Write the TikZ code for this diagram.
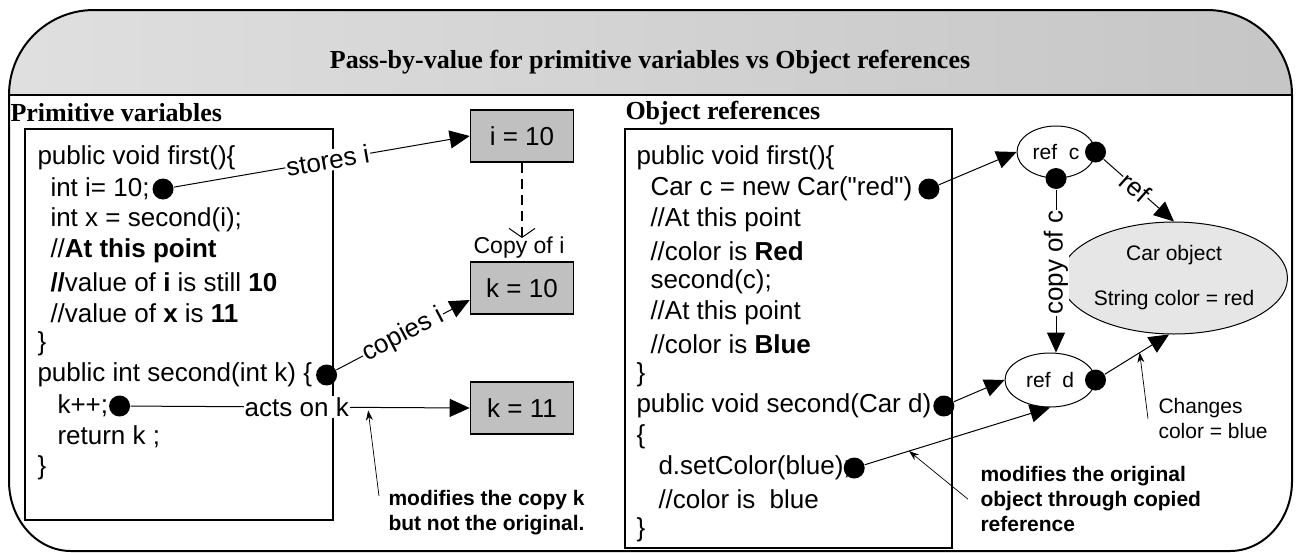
\documentclass[tikz,border=0pt]{standalone}
\usepackage{fontspec}
\setmainfont{Liberation Serif}
\setsansfont{Liberation Sans}
\usetikzlibrary{arrows.meta,positioning,calc,shapes.geometric}
\definecolor{boxgray}{HTML}{C0C0C0}
\definecolor{objgray}{HTML}{E6E6E6}
% straight double quote, not mapped to a curly one
\newcommand\dquote{\XeTeXglyph\XeTeXcharglyph"22\relax}
\tikzset{
	% ------- every something
	every picture/.style={
		x=1pt, y=-1pt,
	},
	every path/.style={
		line width=1pt,
	},
	% ------- custom
	frame/.style={
		line width=2pt,
	},
	title/.style={
		font=\bfseries\fontsize{26}{30}\selectfont,
	},
	heading/.style={
		font=\bfseries\fontsize{26}{30}\selectfont,
		anchor=west, inner sep=0pt,
	},
	codebox/.style={
		line width=1.6pt,
	},
	code/.style={
		font=\sffamily\fontsize{26}{31}\selectfont,
		anchor=west, inner sep=0pt,
	},
	valuebox/.style={
		draw, line width=1.6pt, fill=boxgray,
		minimum width=103pt, minimum height=52pt,
		font=\sffamily\fontsize{26}{31}\selectfont,
	},
	refnode/.style={
		draw, ellipse, fill=white, inner sep=0pt,
		font=\sffamily\fontsize{21}{25}\selectfont,
	},
	dot/.style={
		fill=black, circle, inner sep=0pt, minimum size=21pt,
	},
	link/.style={
		-{Triangle[length=20pt, width=18pt]},
	},
	copylink/.style={
		dashed, dash pattern=on 10pt off 6pt, line width=1.2pt,
		-{Straight Barb[length=9pt, width=26pt, line width=1pt]},
	},
	tag/.style={
		font=\sffamily\fontsize{26}{31}\selectfont,
		fill=white, inner sep=1pt,
	},
	note/.style={
		line width=0.7pt,
		-{Stealth[length=10pt, width=7pt]},
	},
	notetext/.style={
		font=\sffamily\bfseries\fontsize{21}{25}\selectfont,
		align=left, anchor=north west, inner sep=0pt,
	},
	smalltext/.style={
		font=\sffamily\fontsize{21}{25}\selectfont,
		align=left, inner sep=0pt,
	},
}

\begin{document}
\begin{tikzpicture}

\useasboundingbox (0,0) rectangle (1297,552);

% frame and header %{{{2

	\shade[left color=gray!25, middle color=gray!8, right color=gray!45]
		(9,95) arc[start angle=180, end angle=270, radius=85]
		-- (1207,10) arc[start angle=270, end angle=360, radius=85] -- cycle;

	\draw[frame] (9,95) arc[start angle=180, end angle=270, radius=85]
		-- (1207,10) arc[start angle=270, end angle=360, radius=85]
		-- (1292,481) arc[start angle=0, end angle=90, x radius=62, y radius=70]
		-- (71,551) arc[start angle=90, end angle=180, x radius=62, y radius=70]
		-- cycle;
	\draw[frame] (9,95) -- (1292,95);

	\node[title] (title) at (650,62) {Pass-by-value for primitive variables vs Object references};

% headings and code boxes %{{{2

	\node[heading] (primhead) at (10,113) {Primitive variables};
	\node[heading] (objhead) at (625,113) {Object references};

	\draw[codebox] (25,129) rectangle (333,520);
	\draw[codebox] (625,129) rectangle (952,548);

% primitive code lines %{{{2

	\node[code] (l0) at (37,158) {public void first()\{};
	\node[code] (l1) at (50,189) {int i= 10;};
	\node[code] (l2) at (50,220) {int x = second(i);};
	\node[code] (l3) at (50,251) {//\textbf{At this point}};
	\node[code] (l4) at (50,282) {\textbf{//}value of \textbf{i} is still \textbf{10}};
	\node[code] (l5) at (50,313) {//value of \textbf{x} is \textbf{11}};
	\node[code] (l6) at (37,344) {\}};
	\node[code] (l7) at (37,375) {public int second(int k) \{};
	\node[code] (l8) at (57,406) {k++;};
	\node[code] (l9) at (57,437) {return k ;};
	\node[code] (l10) at (37,468) {\}};

% object code lines %{{{2

	\node[code] (r0) at (636,158) {public void first()\{};
	\node[code] (r1) at (650,189) {Car c = new Car(\dquote red\dquote)};
	\node[code] (r2) at (650,220) {//At this point};
	\node[code] (r3) at (650,251) {//color is \textbf{Red}};
	\node[code] (r4) at (650,282) {second(c);};
	\node[code] (r5) at (650,313) {//At this point};
	\node[code] (r6) at (650,344) {//color is \textbf{Blue}};
	\node[code] (r7) at (636,375) {\}};
	\node[code] (r8) at (636,406) {public void second(Car d)};
	\node[code] (r9) at (636,437) {\{};
	\node[code] (r10) at (658,468) {d.setColor(blue);};
	\node[code] (r11) at (658,499) {//color is~ blue};
	\node[code] (r12) at (636,530) {\}};

% value boxes %{{{2

	\node[valuebox] (iv) at (522,136) {i = 10};
	\node[valuebox] (kv) at (522,288) {k = 10};
	\node[valuebox] (kn) at (522,408) {k = 11};
	\node[inner sep=0pt, font=\sffamily\fontsize{23}{27}\selectfont] (copyi) at (519,248) {Copy of i};
	\coordinate (copytip) at (522,238);

% reference ellipses %{{{2

	\node[refnode, minimum width=78pt, minimum height=52pt] (refc) at (1056,152) {ref~~c};
	\node[refnode, minimum width=90pt, minimum height=54pt] (refd) at (1050,380) {ref~~d};
	\node[refnode, fill=objgray, minimum width=198pt, minimum height=112pt, align=center]
		(car) at (1174,278) {Car object\\[20pt]String color = red};

% dots %{{{2

	\node[dot, right=2pt of l1] (dl1) {};
	\node[dot, right=3pt of l7] (dl7) {};
	\node[dot, right=0pt of l8] (dl8) {};
	\node[dot, right=5pt of r1] (dr1) {};
	\node[dot, right=1pt of r8] (dr8) {};
	\node[dot] (dr10) at ([xshift=3pt]r10.east) {};
	\node[dot] (dc1) at (refc.east) {};
	\node[dot] (dc2) at (refc.south) {};
	\node[dot] (dd1) at (refd.east) {};

% primitive connectors %{{{2

	\draw[link] (dl1) -- node[tag, sloped, pos=0.52] {stores i} (iv.west);
	\draw[link] (dl7) -- node[tag, sloped, pos=0.5] {copies i} ([yshift=-12pt]kv.west);
	\draw[link] (dl8) -- node[tag, pos=0.49] {acts on k} (kn.west);
	\draw[copylink] (iv.south) -- (copytip);

% object connectors %{{{2

	\draw[link] (dr1) -- (refc.west);
	\draw[link] (dc1) -- node[tag, sloped, pos=0.45] {ref} (car.north);
	\draw[link] (dc2) -- node[tag, rotate=90, pos=0.45] {copy of c} (dc2 |- refd.north);
	\draw[link] (dr8) -- (refd.west);
	\draw[link] (dr10) -- (refd.south);
	\draw[link] (dd1) -- (car.-95);

% notes %{{{2

	\node[notetext] (nk) at (388,490) {modifies the copy k\\but not the original.};
	\coordinate (nktip) at ($(dl8)!0.71!(kn.west)$);
	\draw[note] ([xshift=-9pt, yshift=-6pt]nk.north west) -- ([yshift=-3pt]nktip);

	\node[notetext] (mo) at (980,466) {modifies the original\\object through copied\\reference};
	\coordinate (motip) at ($(dr10)!0.28!(refd.south)$);
	\draw[note] ([xshift=-12pt]mo.west) -- (motip);

	\node[smalltext, anchor=north west] (chg) at (1158,398) {Changes\\color = blue};
	\coordinate (chgtip) at ($(dd1)!0.6!(car.-95)$);
	\draw[note] ([xshift=-10pt]chg.west) -- (chgtip);

\end{tikzpicture}
\end{document}
